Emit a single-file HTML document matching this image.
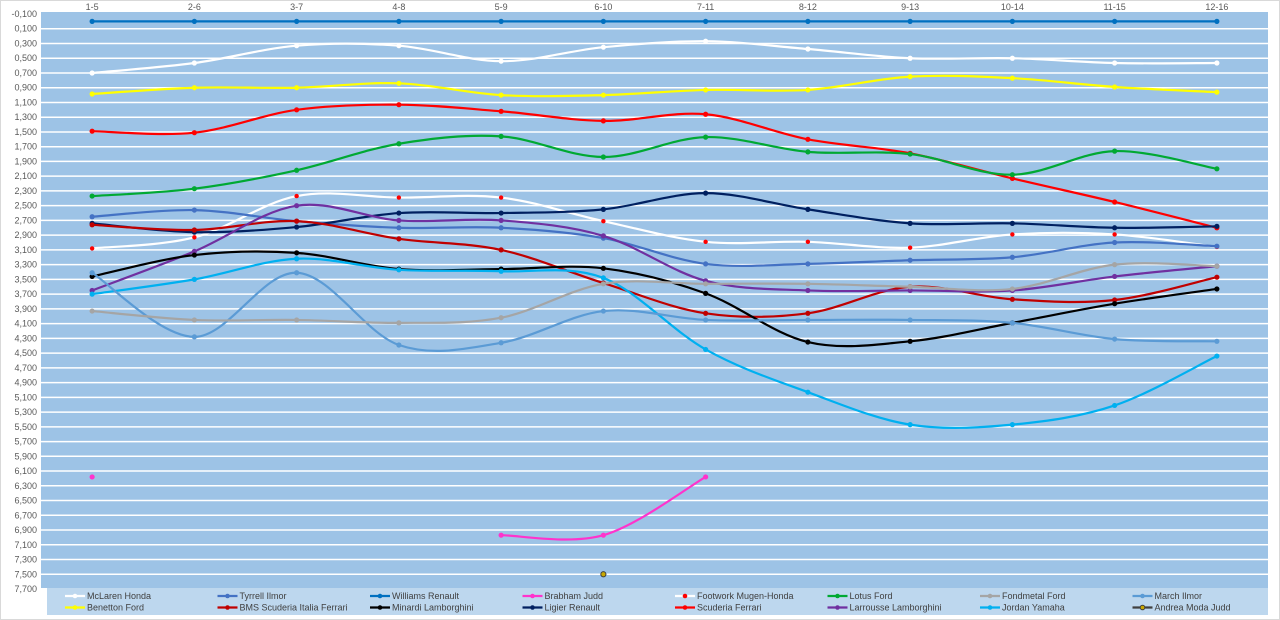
<!DOCTYPE html>
<html><head><meta charset="utf-8"><style>
html,body{margin:0;padding:0;background:#fff;}
svg{display:block;font-family:"Liberation Sans",sans-serif;}
</style></head><body>
<svg id="chart" width="1280" height="620" xmlns="http://www.w3.org/2000/svg">
<rect x="0.5" y="0.5" width="1279" height="619" fill="#ffffff" stroke="#d9d9d9"/>
<rect x="41" y="12" width="1227" height="576" fill="#9dc3e6"/>
<rect x="47" y="588" width="1221" height="27" fill="#bdd7ee"/>
<g id="grid"></g><g id="ylabels"></g><g id="xlabels"></g><g id="series"></g><g id="legend"></g>
</svg>
<script>
const categories=["1-5","2-6","3-7","4-8","5-9","6-10","7-11","8-12","9-13","10-14","11-15","12-16"];
const names=["McLaren Honda","Tyrrell Ilmor","Williams Renault","Brabham Judd","Footwork Mugen-Honda","Lotus Ford","Fondmetal Ford","March Ilmor","Benetton Ford","BMS Scuderia Italia Ferrari","Minardi Lamborghini","Ligier Renault","Scuderia Ferrari","Larrousse Lamborghini","Jordan Yamaha","Andrea Moda Judd"];
const colors=["#ffffff","#4472c4","#0070c0","#ff33cc","#ffffff","#00a933","#a5a5a5","#5b9bd5","#ffff00","#c00000","#000000","#002060","#ff0000","#7030a0","#00b0f0","#404040"];
const mclaren=[0.70,0.565,0.33,0.33,0.54,0.35,0.27,0.375,0.5,0.5,0.565,0.565];
const tyrrell=[2.65,2.56,2.71,2.8,2.8,2.94,3.29,3.29,3.24,3.2,3.0,3.05];
const williams=[0,0,0,0,0,0,0,0,0,0,0,0];
const brabham=[6.18,null,null,null,6.97,6.97,6.18,null,null,null,null,null];
const footwork=[3.08,2.93,2.37,2.39,2.39,2.71,2.99,2.99,3.07,2.89,2.89,3.06];
const lotus=[2.37,2.27,2.02,1.66,1.56,1.84,1.57,1.77,1.80,2.08,1.76,2.0];
const fondmetal=[3.93,4.05,4.05,4.09,4.02,3.56,3.56,3.56,3.6,3.63,3.3,3.32];
const march=[3.41,4.28,3.41,4.39,4.36,3.93,4.05,4.05,4.05,4.09,4.31,4.34];
const benetton=[0.985,0.9,0.9,0.84,1.0,1.0,0.93,0.93,0.75,0.77,0.89,0.96];
const bms=[2.76,2.83,2.71,2.95,3.1,3.55,3.96,3.96,3.6,3.77,3.78,3.47];
const minardi=[3.46,3.17,3.14,3.36,3.36,3.35,3.69,4.35,4.34,4.09,3.83,3.63];
const ligier=[2.74,2.86,2.79,2.6,2.6,2.55,2.33,2.55,2.74,2.74,2.8,2.78];
const ferrari=[1.49,1.51,1.2,1.13,1.22,1.35,1.26,1.6,1.79,2.13,2.45,2.80];
const larrousse=[3.65,3.12,2.5,2.7,2.7,2.91,3.52,3.65,3.65,3.65,3.46,3.32];
const jordan=[3.7,3.5,3.22,3.37,3.39,3.48,4.45,5.03,5.47,5.47,5.21,4.54];
const andrea=[null,null,null,null,null,7.5,null,null,null,null,null,null];
const seriesData=[mclaren,tyrrell,williams,brabham,footwork,lotus,fondmetal,march,benetton,bms,minardi,ligier,ferrari,larrousse,jordan,andrea];
const yTicks=[-0.1,0.1,0.3,0.5,0.7,0.9,1.1,1.3,1.5,1.7,1.9,2.1,2.3,2.5,2.7,2.9,3.1,3.3,3.5,3.7,3.9,4.1,4.3,4.5,4.7,4.9,5.1,5.3,5.5,5.7,5.9,6.1,6.3,6.5,6.7,6.9,7.1,7.3,7.5,7.7];
const drawOrder=[2,0,8,12,5,4,1,11,9,13,10,14,7,6,3,15];

const NS="http://www.w3.org/2000/svg";
const X0=41,X1=1268,YT=14,YB=589,VMIN=-0.1,VMAX=7.7;
const xs=i=>X0+(X1-X0)/categories.length*(i+0.5);
const ys=v=>YT+(v-VMIN)/(VMAX-VMIN)*(YB-YT);
function mk(tag,attrs,parent){const e=document.createElementNS(NS,tag);for(const k in attrs)e.setAttribute(k,attrs[k]);parent.appendChild(e);return e;}
const grid=document.getElementById('grid'),yl=document.getElementById('ylabels'),xl=document.getElementById('xlabels'),sg=document.getElementById('series'),lg=document.getElementById('legend');
yTicks.forEach(t=>{
  const y=ys(t);
  if(t>VMIN+0.01 && t<VMAX-0.01){const l=mk('line',{x1:X0,x2:X1,y1:y,y2:y,stroke:'#ffffff','stroke-width':1.5},grid);
  
  }
  const tx=mk('text',{x:37,y:y+3,'text-anchor':'end','font-size':9,fill:'#595959'},yl);
  
  
  tx.textContent=t.toFixed(3).replace('.',',');
});
categories.forEach((c,i)=>{
  const tx=mk('text',{x:xs(i),y:10,'text-anchor':'middle','font-size':9,fill:'#595959'},xl);
  
  
  tx.textContent=c;
});
function pathFor(pts){
  let d='M'+pts[0][0]+','+pts[0][1];
  for(let i=0;i<pts.length-1;i++){
    const p0=pts[i-1]||pts[i],p1=pts[i],p2=pts[i+1],p3=pts[i+2]||p2;
    const c1=[p1[0]+(p2[0]-p0[0])/6,p1[1]+(p2[1]-p0[1])/6];
    const c2=[p2[0]-(p3[0]-p1[0])/6,p2[1]-(p3[1]-p1[1])/6];
    d+=' C'+c1+' '+c2+' '+p2;
  }
  return d;
}
drawOrder.forEach(si=>{
  const data=seriesData[si],col=colors[si];
  const g=mk('g',{},sg);
  
  
  let seg=[];const segs=[];
  data.forEach((v,i)=>{if(v==null){if(seg.length)segs.push(seg);seg=[];}else seg.push([xs(i),ys(v)]);});
  if(seg.length)segs.push(seg);
  segs.forEach(s=>{if(s.length>1){const p=mk('path',{d:pathFor(s),fill:'none',stroke:col,'stroke-width':2.2},g);
    
    }});
  data.forEach((v,i)=>{if(v==null)return;
    const c=mk('circle',{cx:xs(i),cy:ys(v),r:si===4?2.2:2.6,fill:si===4?'#ff0000':(si===15?'#c9a800':col),stroke:si===15?'#404040':'none','stroke-width':1},g);
    
    });
});
names.forEach((n,k)=>{
  const col=k%8,row=Math.floor(k/8);
  const x=65+col*152.5,y=596+row*11.5;
  const g=mk('g',{},lg);
  
  
  mk('line',{x1:x,x2:x+20,y1:y,y2:y,stroke:colors[k],'stroke-width':2.2},g);
  mk('circle',{cx:x+10,cy:y,r:2.3,fill:k===4?'#ff0000':(k===15?'#c9a800':colors[k]),stroke:k===15?'#404040':'none'},g);
  const t=mk('text',{x:x+22,y:y+3,'font-size':9,fill:'#404040'},g);
  t.textContent=n;
});
</script>
</body></html>
